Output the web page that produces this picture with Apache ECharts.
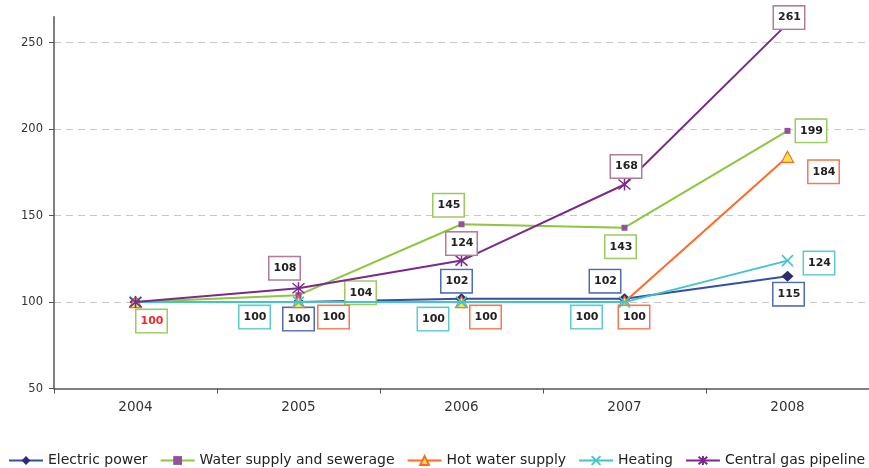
<!DOCTYPE html>
<html>
<head>
<meta charset="utf-8">
<title>Utility tariff index, 2004 = 100</title>
<script src="https://cdn.jsdelivr.net/npm/echarts@6/dist/echarts.min.js"></script>
<style>
  html, body { margin: 0; padding: 0; background: #fff; }
  #chart { width: 869px; height: 468px; }
</style>
</head>
<body>
<div id="chart"></div>
<script>
// Categories and values (index, 2004 = 100)
const years = ['2004', '2005', '2006', '2007', '2008'];
const electricPower = [100, 100, 102, 102, 115];
const waterSupply = [100, 104, 145, 143, 199];
const hotWater = [100, 100, 100, 100, 184];
const heating = [100, 100, 100, 100, 124];
const gasPipeline = [100, 108, 124, 168, 261];
const yTicks = [50, 100, 150, 200, 250];

// Placement of each value box relative to its point (null = no box)
const labelOffsets = {
  electric: [null, [0, 17], [-5, -17.5], [-19.5, -17.5], [1, 18]],
  water:    [[16, 19], [62, -2.5], [-13, -19], [-4, 19], [23.5, 0]],
  hot:      [null, [35, 15], [24, 15], [9.5, 15], [36, 15]],
  heating:  [null, [-44, 15], [-28.5, 17], [-38, 15], [31.5, 2.5]],
  gas:      [null, [-14, -20], [0, -17], [1.5, -18], [1.5, -6]]
};

const FONT = '"DejaVu Sans", sans-serif';

function makeSeries(name, values, offsets, opt) {
  return {
    name: name,
    type: 'line',
    data: values.map((v, i) => {
      const off = offsets[i];
      const item = { value: v };
      if (off) {
        item.label = {
          show: true,
          position: 'inside',
          offset: off,
          color: (opt.firstLabelColor && i === 0) ? opt.firstLabelColor : '#222',
          borderColor: opt.boxColor
        };
      } else {
        item.label = { show: false };
      }
      return item;
    }),
    symbol: opt.symbol,
    symbolSize: opt.symbolSize,
    showAllSymbol: true,
    lineStyle: { color: opt.lineColor, width: 2 },
    itemStyle: {
      color: opt.fill,
      borderColor: opt.stroke,
      borderWidth: opt.strokeWidth
    },
    emphasis: { disabled: true },
    label: {
      fontFamily: FONT,
      fontWeight: 'bold',
      fontSize: 11,
      lineHeight: 12,
      backgroundColor: '#fff',
      borderWidth: 1.5,
      padding: [5, 3, 5, 4],
      formatter: p => String(p.value)
    },
    z: opt.z
  };
}

const series = [
  makeSeries('Electric power', electricPower, labelOffsets.electric, {
    symbol: 'diamond', symbolSize: [12, 11],
    lineColor: '#3052A3', fill: '#2B2E6E', stroke: '#2B2E6E', strokeWidth: 0,
    boxColor: '#4E6BB5', z: 2
  }),
  makeSeries('Water supply and sewerage', waterSupply, labelOffsets.water, {
    symbol: 'rect', symbolSize: 6,
    lineColor: '#8DC63F', fill: '#93509B', stroke: '#93509B', strokeWidth: 0,
    boxColor: '#9ACB5E', firstLabelColor: '#EE2A2A', z: 3
  }),
  makeSeries('Hot water supply', hotWater, labelOffsets.hot, {
    symbol: 'triangle', symbolSize: [12, 11],
    lineColor: '#FF6A28', fill: '#F3E84A', stroke: '#FF6A28', strokeWidth: 1.2,
    boxColor: '#F27A50', z: 4
  }),
  makeSeries('Heating', heating, labelOffsets.heating, {
    symbol: 'path://M0,0L10,10M10,0L0,10', symbolSize: 11,
    lineColor: '#43C4CA', fill: 'rgba(0,0,0,0)', stroke: '#43C4CA', strokeWidth: 1.5,
    boxColor: '#5CCBCD', z: 5
  }),
  makeSeries('Central gas pipeline', gasPipeline, labelOffsets.gas, {
    symbol: 'path://M0,0L10,10M10,0L0,10M5,-1L5,11', symbolSize: 12,
    lineColor: '#7A2B8A', fill: 'rgba(0,0,0,0)', stroke: '#7A2B8A', strokeWidth: 1.5,
    boxColor: '#B27B9B', z: 6
  })
];

const chart = echarts.init(document.getElementById('chart'), null, { renderer: 'canvas' });
chart.setOption({
  animation: false,
  backgroundColor: '#fff',
  grid: { left: 54, right: -7.5, top: 16.7, bottom: 79.4, containLabel: false },
  xAxis: {
    type: 'category',
    data: years,
    boundaryGap: true,
    axisLine: { lineStyle: { color: '#555', width: 1.5 } },
    axisTick: { show: true, length: 5, lineStyle: { color: '#555', width: 1 } },
    axisLabel: { color: '#333', fontFamily: FONT, fontSize: 13.5, margin: 12 },
    splitLine: { show: false }
  },
  yAxis: {
    type: 'value',
    min: 50,
    max: 265,
    interval: 50,
    axisLine: { show: true, lineStyle: { color: '#555', width: 1.5 } },
    axisTick: { show: true, length: 5, customValues: yTicks, lineStyle: { color: '#555', width: 1 } },
    axisLabel: { color: '#333', fontFamily: FONT, fontSize: 11.5, margin: 11, customValues: yTicks },
    splitLine: {
      show: true,
      showMinLine: false,
      lineStyle: { color: '#C8C8C8', type: [7, 5], width: 1 }
    }
  },
  legend: {
    left: 8,
    top: 453.5,
    padding: 0,
    width: 1000,
    itemWidth: 34,
    itemHeight: 11,
    itemGap: 12,
    textStyle: { color: '#222', fontFamily: FONT, fontSize: 14 },
    data: series.map(s => s.name)
  },
  series: series
});
</script>
</body>
</html>
